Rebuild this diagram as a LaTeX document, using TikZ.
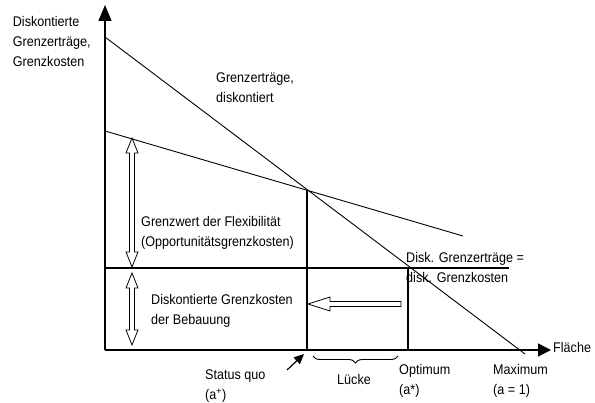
\documentclass[tikz,border=0pt]{standalone}
\usepackage{fontspec}
\setmainfont[FakeStretch=0.9]{Liberation Sans}
\usetikzlibrary{arrows.meta,decorations.pathreplacing}
\begin{document}
\begin{tikzpicture}[x=1pt,y=-1pt,
  lbl/.style={anchor=base west,inner sep=0pt,align=left,font=\fontsize{14}{20}\selectfont},
  axis/.style={line width=1.4pt},
  thin/.style={line width=0.9pt},
  bold/.style={line width=1.8pt},
  hollow/.style={line width=0.8pt,fill=white}]
\useasboundingbox (0,0) rectangle (595,403);
% coordinates
\coordinate (O) at (105,350);
\coordinate (ytip) at (105,5);
\coordinate (xtip) at (551,350);
\coordinate (s1) at (105,37);
\coordinate (s2) at (525,354);
\coordinate (f1) at (105,131);
\coordinate (f2) at (463,236);
\coordinate (X) at (307,190);
\coordinate (Xb) at (307,350);
\coordinate (h1) at (105,268);
\coordinate (h2) at (509,268);
\coordinate (opt) at (408,268);
\coordinate (optb) at (408,350);
% axes
\draw[axis,-{Triangle[length=16pt,width=13pt]}] (O) -- (ytip);
\draw[axis,-{Triangle[length=13pt,width=13pt]}] (O) -- (xtip);
% curves
\draw[thin] (s1) -- (s2);
\draw[thin] (f1) -- (f2);
\draw[bold] (X) -- (Xb);
\draw[bold] (h1) -- (h2);
\draw[bold] (opt) -- (optb);
% double arrows
\draw[hollow] (132,138) -- (138,153) -- (134.5,153) -- (134.5,252) -- (138,252) -- (132,267)
  -- (126,252) -- (129.5,252) -- (129.5,153) -- (126,153) -- cycle;
\draw[hollow] (132,273) -- (138,288) -- (134.5,288) -- (134.5,330) -- (138,330) -- (132,345)
  -- (126,330) -- (129.5,330) -- (129.5,288) -- (126,288) -- cycle;
% hollow left arrow
\draw[hollow] (308,304) -- (330,297) -- (330,301.5) -- (401,301.5) -- (401,306.5) -- (330,306.5)
  -- (330,311) -- cycle;
% status quo arrow
\coordinate (sqa) at (287,370);
\coordinate (sqb) at (304,354);
\draw[line width=1.2pt,-{Triangle[length=10pt,width=9pt]}] (sqa) -- (sqb);
% brace
\draw[thin,decorate,decoration={brace,amplitude=7pt}] (398,356) -- (313,356);
% labels (anchor = baseline of last line)
\node[lbl] (ylab) at (12.7,67) {Diskontierte\\Grenzerträge,\\Grenzkosten};
\node[lbl] (gd) at (216,103) {Grenzerträge,\\diskontiert};
\node[lbl] (gw) at (141,247) {Grenzwert der Flexibilität\\(Opportunitätsgrenzkosten)};
\node[lbl] (dg) at (151,325) {Diskontierte Grenzkosten\\der Bebauung};
\node[lbl] (sq) at (205,400) {Status quo\\(a\textsuperscript{+})};
\node[lbl] (eq) at (406,283) {Disk. Grenzerträge =\\disk. Grenzkosten};
\node[lbl] (op) at (399,395) {Optimum\\(a*)};
\node[lbl] (mx) at (493,395) {Maximum\\(a = 1)};
\node[lbl] (lu) at (337,385) {Lücke};
\node[lbl] (fl) at (553,353) {Fläche};
\end{tikzpicture}
\end{document}
